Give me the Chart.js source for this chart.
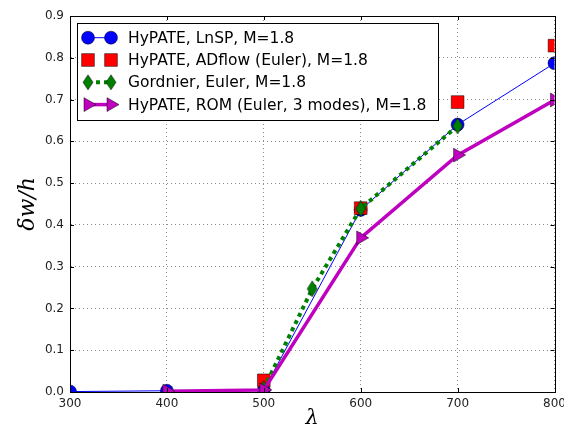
<!DOCTYPE html>
<html>
<head>
<meta charset="utf-8">
<script src="https://cdn.jsdelivr.net/npm/chart.js@4.4.0/dist/chart.umd.min.js"></script>
<style>
  html, body { margin: 0; padding: 0; background: #fff; overflow: hidden; }
  #wrap { width: 564px; height: 436px; }
  canvas { display: block; }
</style>
</head>
<body>
<div id="wrap"><canvas id="deflChart" width="564" height="436"></canvas></div>
<script>
// wavelength (x) and deflection (y)
const lambdaLnsp = [300, 400, 500, 600, 700, 800];
const lnsp = [0.001, 0.003, 0.005, 0.436, 0.640, 0.787];

const lambdaAdflow = [500, 600, 700, 800];
const adflow = [0.028, 0.440, 0.694, 0.829];

const lambdaGordnier = [500, 550, 600, 700];
const gordnier = [0.008, 0.247, 0.439, 0.637];

const lambdaRom = [400, 500, 600, 700, 800];
const rom = [0.002, 0.005, 0.369, 0.567, 0.699];

const xTicks = [300, 400, 500, 600, 700, 800];
const yTicks = [0, 0.1, 0.2, 0.3, 0.4, 0.5, 0.6, 0.7, 0.8, 0.9];

const labels = [
    'HyPATE, LnSP, M=1.8',
    'HyPATE, ADflow (Euler), M=1.8',
    'Gordnier, Euler, M=1.8',
    'HyPATE, ROM (Euler, 3 modes), M=1.8'
];

const toPoints = (xs, ys) => xs.map((x, i) => ({ x: x, y: ys[i] }));

// thin diamond marker (matplotlib 'd')
function thinDiamond(w, h, fill) {
    const c = document.createElement('canvas');
    c.width = w + 2; c.height = h + 2;
    const g = c.getContext('2d');
    g.beginPath();
    g.moveTo(c.width / 2, 1);
    g.lineTo(c.width - 1, c.height / 2);
    g.lineTo(c.width / 2, c.height - 1);
    g.lineTo(1, c.height / 2);
    g.closePath();
    g.fillStyle = fill;
    g.fill();
    g.lineWidth = 0.5;
    g.strokeStyle = '#000';
    g.stroke();
    return c;
}
const diamond = thinDiamond(10, 16, '#008000');
const diamondSmall = thinDiamond(10, 15, '#008000');

Chart.defaults.font.family = 'DejaVu Sans';
Chart.defaults.color = '#222';

const frameAndLegend = {
    id: 'frameAndLegend',
    afterDraw(chart) {
        const ctx = chart.ctx;
        const a = chart.chartArea;
        const xs = chart.scales.x, ys = chart.scales.y;
        ctx.save();
        // inward ticks on all four sides
        ctx.strokeStyle = '#000';
        ctx.lineWidth = 1;
        ctx.beginPath();
        xTicks.forEach(v => {
            const p = Math.round(xs.getPixelForValue(v)) + 0.5;
            ctx.moveTo(p, a.bottom); ctx.lineTo(p, a.bottom - 4);
            ctx.moveTo(p, a.top); ctx.lineTo(p, a.top + 4);
        });
        yTicks.forEach(v => {
            const p = Math.round(ys.getPixelForValue(v)) + 0.5;
            ctx.moveTo(a.left, p); ctx.lineTo(a.left + 4, p);
            ctx.moveTo(a.right, p); ctx.lineTo(a.right - 4, p);
        });
        ctx.stroke();
        // frame
        ctx.strokeRect(Math.round(a.left) + 0.5, Math.round(a.top) + 0.5,
            Math.round(a.right - a.left), Math.round(a.bottom - a.top));

        // legend
        ctx.fillStyle = '#fff';
        ctx.fillRect(77.5, 23.5, 361, 97);
        ctx.strokeStyle = '#000';
        ctx.lineWidth = 1;
        ctx.strokeRect(77.5, 23.5, 361, 97);
        chart.data.datasets.forEach((ds, i) => {
            const y = 37.7 + i * 22.3;
            if (ds.showLine !== false) {
                ctx.save();
                ctx.strokeStyle = ds.borderColor;
                ctx.lineWidth = ds.borderWidth;
                ctx.setLineDash(ds.borderDash || []);
                ctx.beginPath();
                ctx.moveTo(88, y); ctx.lineTo(111, y);
                ctx.stroke();
                ctx.restore();
            }
            const style = ds.pointStyle === diamond ? diamondSmall : ds.pointStyle;
            [88, 111].forEach(px => {
                ctx.save();
                ctx.fillStyle = ds.pointBackgroundColor;
                ctx.strokeStyle = ds.pointBorderColor;
                ctx.lineWidth = ds.pointBorderWidth;
                Chart.helpers.drawPoint(ctx, {
                    pointStyle: style,
                    rotation: ds.pointRotation || 0,
                    radius: ds.pointRadius,
                    borderWidth: ds.pointBorderWidth
                }, px, y);
                ctx.restore();
            });
            ctx.fillStyle = '#000';
            ctx.font = '15.5px "DejaVu Sans"';
            ctx.textBaseline = 'middle';
            ctx.textAlign = 'left';
            ctx.fillText(labels[i], 128, y + 1);
        });
        ctx.restore();
    }
};

new Chart(document.getElementById('deflChart').getContext('2d'), {
    type: 'line',
    data: {
        datasets: [
            {
                label: labels[0],
                data: toPoints(lambdaLnsp, lnsp),
                borderColor: '#0000ff',
                borderWidth: 1,
                pointStyle: 'circle',
                pointRadius: 6.5,
                pointBackgroundColor: '#0000ff',
                pointBorderColor: '#000',
                pointBorderWidth: 0.5,
                order: 4
            },
            {
                label: labels[1],
                data: toPoints(lambdaAdflow, adflow),
                showLine: false,
                borderColor: '#ff0000',
                pointStyle: 'rect',
                pointRadius: 9,
                pointBackgroundColor: '#ff0000',
                pointBorderColor: '#000',
                pointBorderWidth: 0.5,
                order: 3
            },
            {
                label: labels[2],
                data: toPoints(lambdaGordnier, gordnier),
                borderColor: '#008000',
                borderWidth: 4,
                borderDash: [4, 4],
                pointStyle: diamond,
                pointRadius: 8,
                pointBackgroundColor: '#008000',
                pointBorderColor: '#000',
                pointBorderWidth: 0.5,
                order: 2
            },
            {
                label: labels[3],
                data: toPoints(lambdaRom, rom),
                borderColor: '#bf00bf',
                borderWidth: 3.5,
                pointStyle: 'triangle',
                pointRotation: 90,
                pointRadius: 8,
                pointBackgroundColor: '#bf00bf',
                pointBorderColor: '#000',
                pointBorderWidth: 0.5,
                order: 1
            }
        ]
    },
    options: {
        responsive: false,
        animation: false,
        devicePixelRatio: 1,
        layout: { padding: { top: 16, right: 9, left: 0, bottom: 0 } },
        plugins: {
            legend: { display: false },
            tooltip: { enabled: false }
        },
        scales: {
            x: {
                type: 'linear',
                min: 300,
                max: 800,
                afterBuildTicks: s => { s.ticks = xTicks.map(v => ({ value: v })); },
                afterFit: s => { s.height = 44; s.paddingLeft = 0; s.paddingRight = 0; },
                grid: { color: 'rgba(0,0,0,0.45)', lineWidth: 1, drawTicks: false },
                border: { display: true, color: '#000', dash: [1, 3] },
                ticks: { padding: 5, font: { size: 12 }, color: '#222', callback: v => String(v) },
                title: {
                    display: true,
                    text: 'λ',
                    font: { family: 'DejaVu Serif', style: 'italic', size: 21, lineHeight: 1 },
                    color: '#000',
                    padding: { top: 0, bottom: 7 }
                }
            },
            y: {
                type: 'linear',
                min: 0,
                max: 0.9,
                afterBuildTicks: s => { s.ticks = yTicks.map(v => ({ value: v })); },
                afterFit: s => { s.width = 70; s.paddingTop = 0; s.paddingBottom = 0; },
                grid: { color: 'rgba(0,0,0,0.45)', lineWidth: 1, drawTicks: false },
                border: { display: true, color: '#000', dash: [1, 3] },
                ticks: { padding: 6, font: { size: 12 }, color: '#222', callback: v => v.toFixed(1) },
                title: {
                    display: true,
                    text: 'δw/h',
                    font: { family: 'DejaVu Serif', style: 'italic', size: 22 },
                    color: '#000',
                    padding: { top: 15, bottom: 0 }
                }
            }
        }
    },
    plugins: [frameAndLegend]
});
</script>
</body>
</html>
